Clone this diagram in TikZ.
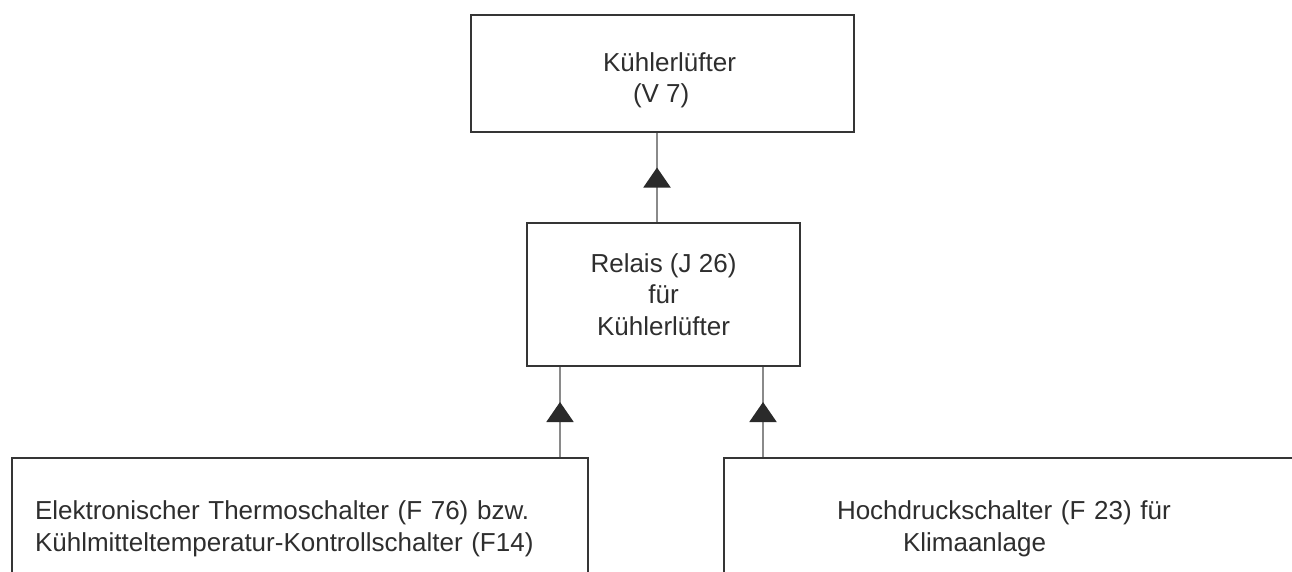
\documentclass[tikz,border=0pt]{standalone}
\usepackage{fontspec}
\setmainfont{Liberation Sans}
\usetikzlibrary{arrows.meta,decorations.markings}
\definecolor{boxline}{HTML}{353535}
\definecolor{connline}{HTML}{8A8A8A}
\definecolor{txt}{HTML}{2E2E2E}
\definecolor{tri}{HTML}{2A2A2A}
\begin{document}
\begin{tikzpicture}[x=1pt,y=-1pt,
  box/.style={draw=boxline, line width=2.5pt, fill=white, text=txt,
    font=\fontsize{26}{31.5}\selectfont, inner sep=0pt},
  conn/.style={draw=connline, line width=2pt, postaction={decorate},
    decoration={markings, mark=at position 0.5 with
      {\arrow[xshift=10pt]{Triangle[width=27pt,length=20pt,color=tri]}}}}]
\useasboundingbox (0,0) rectangle (1292,571);
\clip (0,0) rectangle (1292,571);
\fill[white] (0,0) rectangle (1292,571);

\node[box, minimum width=383pt, minimum height=117pt, align=left] (fan) at (662.5,73.5)
  {\hspace*{14pt}\raisebox{0pt}[\dimexpr\height+14pt\relax]{Kühlerlüfter}\\\hspace*{44pt}(V 7)};
\node[box, minimum width=273pt, minimum height=143pt, align=center] (relay) at (663.5,294.5)
  {Relais (J 26)\\für\\Kühlerlüfter};
\node[box, minimum width=576pt, minimum height=142pt, text width=530pt, align=left] (thermo) at (300,529)
  {Elektronischer Thermoschalter (F 76) bzw.\\Kühlmitteltemperatur-Kontrollschalter (F14)};
\node[box, minimum width=676pt, minimum height=142pt, text width=450pt, align=left] (hp) at (1062,529)
  {Hochdruckschalter (F 23) für\\\hspace*{66pt}Klimaanlage};

\coordinate (x1) at (657,0);
\coordinate (x2) at (560,0);
\coordinate (x3) at (763,0);
\draw[conn] (x1 |- relay.north) -- (x1 |- fan.south);
\draw[conn] (x2 |- thermo.north) -- (x2 |- relay.south);
\draw[conn] (x3 |- hp.north) -- (x3 |- relay.south);
\end{tikzpicture}
\end{document}
